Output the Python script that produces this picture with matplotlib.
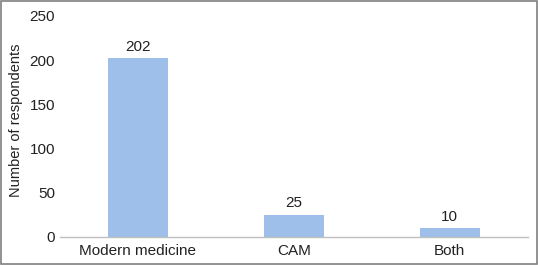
import matplotlib.pyplot as plt
from matplotlib.patches import Rectangle

categories = ["Modern medicine", "CAM", "Both"]
respondents = [202, 25, 10]

plt.rcParams["font.family"] = ["Liberation Sans", "DejaVu Sans"]
plt.rcParams["hatch.color"] = "#c3d8f2"
plt.rcParams["hatch.linewidth"] = 0.6

fig = plt.figure(figsize=(5.38, 2.65), dpi=100)
ax = fig.add_axes([0.1115, 0.1057, 0.8695, 0.834])

x = range(len(categories))
bars = ax.bar(x, respondents, width=0.385, color="#9dbfe9", hatch="-----",
              edgecolor="none", linewidth=0)
for xi, v in zip(x, respondents):
    ax.text(xi, v + 5, str(v), ha="center", va="bottom", fontsize=11,
            color="#222222")

ax.set_xlim(-0.5, len(categories) - 0.5)
ax.set_ylim(0, 250)
ax.set_yticks(range(0, 251, 50))
ax.set_xticks(list(x))
ax.set_xticklabels(categories)
ax.tick_params(axis="both", length=0, labelsize=11, colors="#222222")
ax.tick_params(axis="y", pad=3.5)
ax.tick_params(axis="x", pad=5)
ax.set_ylabel("Number of respondents", fontsize=10.5, color="#222222")
ax.yaxis.set_label_coords(-0.079, 0.53)

for side in ["top", "right", "left"]:
    ax.spines[side].set_visible(False)
ax.spines["bottom"].set_color("#bfbfbf")
ax.spines["bottom"].set_linewidth(1)

fig.patches.append(Rectangle((0.002, 0.004), 0.996, 0.992, transform=fig.transFigure,
                             fill=False, edgecolor="#7f7f7f", linewidth=1.2))

fig.savefig("out.png", dpi=100)
